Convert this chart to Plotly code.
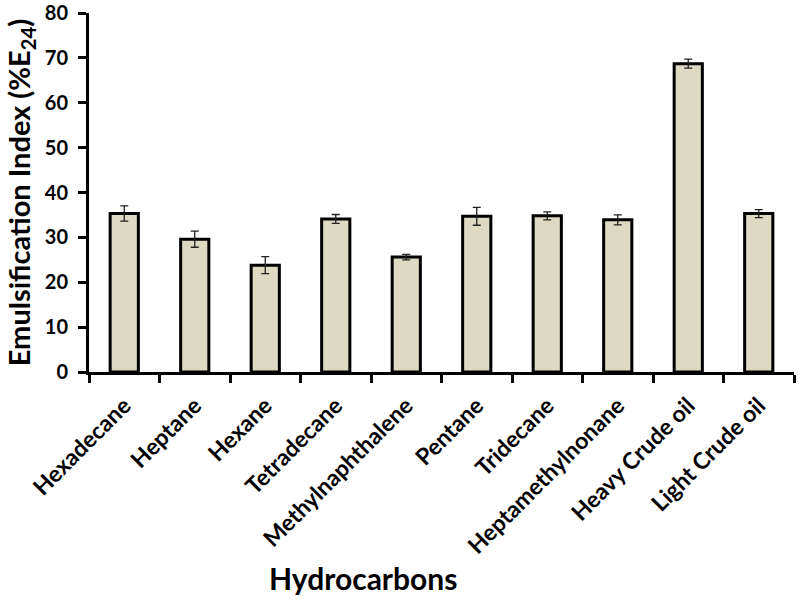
import plotly.graph_objects as go

# datos
hydrocarbons = ["Hexadecane", "Heptane", "Hexane", "Tetradecane", "Methylnaphthalene",
                "Pentane", "Tridecane", "Heptamethylnonane", "Heavy Crude oil", "Light Crude oil"]
e24 = [35.3, 29.6, 23.8, 34.1, 25.6, 34.7, 34.8, 33.9, 68.7, 35.3]
e24_err = [1.7, 1.8, 1.9, 1.0, 0.6, 2.0, 0.9, 1.1, 1.0, 0.9]

fig = go.Figure()

fig.add_trace(go.Bar(
    x=hydrocarbons,
    y=e24,
    marker=dict(color="#DDD9C3", line=dict(color="black", width=3)),
    error_y=dict(type="data", array=e24_err, visible=True,
                 color="#222222", thickness=1.3, width=4),
    width=0.4,
))

fig.update_layout(
    width=800,
    height=604,
    showlegend=False,
    plot_bgcolor="white",
    paper_bgcolor="white",
    margin=dict(l=89, r=6, t=13, b=232, autoexpand=False),
    font=dict(family="Lato", color="black"),
    xaxis=dict(
        type="category",
        range=[-0.5, 9.5],
        automargin=False,
        showline=True, linecolor="black", linewidth=3,
        ticks="outside", tickson="boundaries", ticklen=8, tickwidth=3, tickcolor="black",
        tickangle=-45,
        ticklabelstandoff=8,
        tickfont=dict(family="Lato", size=23, color="black", weight="bold"),
        showgrid=False,
    ),
    yaxis=dict(
        range=[0, 80],
        dtick=10,
        automargin=False,
        showline=True, linecolor="black", linewidth=3,
        ticks="outside", ticklen=8, tickwidth=3, tickcolor="black",
        ticklabelstandoff=6,
        ticklabeloverflow="allow",
        tickfont=dict(family="Lato", size=20, color="black", weight="bold"),
        title=dict(text="<b>Emulsification Index (%E<sub>24</sub>)</b>",
                   font=dict(family="Lato", size=29), standoff=6),
        showgrid=False,
        zeroline=False,
    ),
    annotations=[dict(
        text="<b>Hydrocarbons</b>", xref="paper", yref="paper",
        xanchor="center", yanchor="middle",
        showarrow=False, font=dict(family="Lato", size=30, color="black"),
    )],
)

# posicion del titulo del eje x en pixeles -> fraccion del area de dibujo
fig.layout.annotations[0].x = (363 - 89) / (800 - 89 - 6)
fig.layout.annotations[0].y = -(578 - 372) / (372 - 13)

# quitar el margen por defecto del body para que la figura empiece en (0,0)
fig.write_html("out.html", config={"displayModeBar": False},
               post_script="document.body.style.margin='0';")
